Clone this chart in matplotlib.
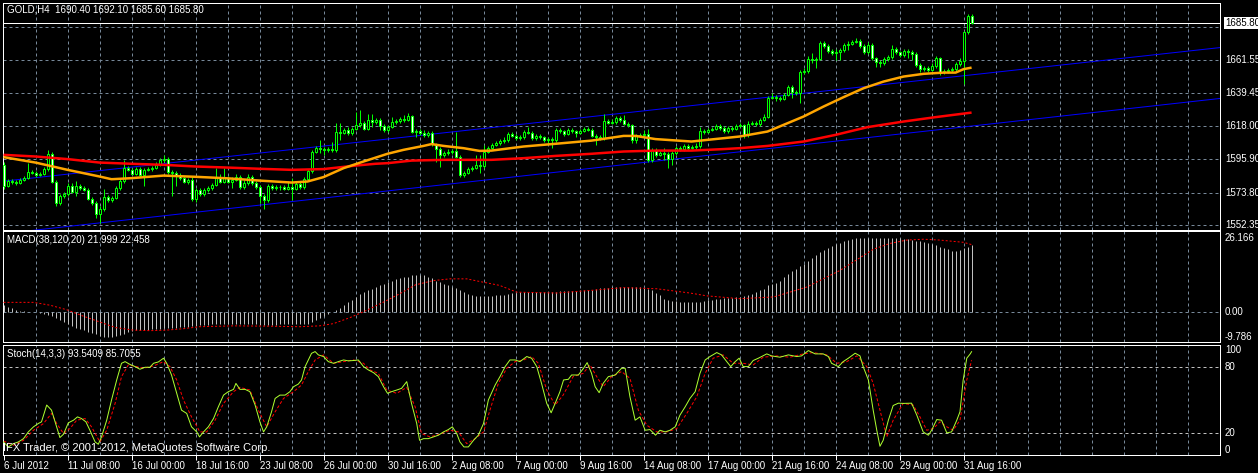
import numpy as np
import matplotlib
matplotlib.use("Agg")
import matplotlib.pyplot as plt
import matplotlib.transforms as mtransforms

# --- Data (GOLD, H4, 6 Jul 2012 16:00 .. 31 Aug 2012) ---
first_open = 1592.0
close = [
    1578.5, 1581.7, 1581.1, 1580.4, 1582.4, 1583.7, 1587.7, 1587.0, 1585.7, 1586.4,
    1589.7, 1599.6, 1581.1, 1567.2, 1571.8, 1573.2, 1578.4, 1574.5, 1578.4, 1577.1,
    1575.8, 1569.9, 1567.2, 1560.0, 1563.3, 1571.2, 1569.2, 1570.5, 1577.1, 1581.7,
    1590.3, 1589.0, 1586.4, 1589.7, 1585.7, 1589.0, 1589.7, 1590.3, 1592.3, 1595.6,
    1596.3, 1587.7, 1587.0, 1585.7, 1583.7, 1581.1, 1582.4, 1569.9, 1575.8, 1573.2,
    1575.8, 1577.1, 1579.1, 1584.4, 1581.1, 1583.7, 1581.1, 1582.4, 1584.4, 1577.8,
    1580.4, 1584.4, 1580.4, 1577.8, 1571.8, 1569.2, 1578.4, 1577.1, 1577.6, 1577.8,
    1576.5, 1577.8, 1576.5, 1579.8, 1577.8, 1583.1, 1588.3, 1600.9, 1603.5, 1602.9,
    1602.2, 1602.9, 1602.2, 1614.1, 1613.4, 1615.4, 1613.4, 1616.1, 1618.7, 1620.0,
    1616.1, 1622.0, 1620.7, 1622.0, 1618.0, 1615.4, 1617.4, 1620.7, 1621.3, 1622.7,
    1622.0, 1624.6, 1614.1, 1614.7, 1613.4, 1612.1, 1613.4, 1606.2, 1602.9, 1598.9,
    1600.2, 1600.9, 1601.5, 1597.6, 1585.7, 1587.0, 1589.7, 1590.3, 1592.3, 1591.6,
    1600.9, 1603.5, 1605.5, 1606.8, 1608.1, 1608.4, 1612.8, 1611.4, 1610.1, 1610.6,
    1614.1, 1613.4, 1610.1, 1611.4, 1610.8, 1608.8, 1609.2, 1608.5, 1615.4, 1614.7,
    1612.8, 1615.4, 1614.7, 1613.4, 1614.7, 1616.1, 1615.4, 1611.4, 1611.0, 1610.1,
    1621.3, 1620.0, 1620.7, 1623.3, 1622.0, 1619.4, 1618.7, 1608.8, 1611.4, 1612.1,
    1612.8, 1595.6, 1602.2, 1598.9, 1600.2, 1599.6, 1596.3, 1600.2, 1603.5, 1602.9,
    1604.8, 1603.5, 1604.2, 1604.8, 1614.7, 1614.2, 1615.4, 1616.1, 1618.0, 1616.7,
    1614.7, 1616.7, 1616.1, 1618.0, 1618.7, 1612.1, 1619.4, 1619.9, 1619.2, 1622.0,
    1624.0, 1636.5, 1637.0, 1636.3, 1636.0, 1638.5, 1643.8, 1640.5, 1639.8, 1653.7,
    1654.3, 1662.3, 1661.6, 1662.3, 1672.8, 1670.8, 1667.5, 1666.2, 1666.9, 1668.2,
    1671.5, 1672.2, 1673.5, 1674.1, 1670.8, 1666.9, 1671.5, 1662.9, 1660.3, 1659.8,
    1662.3, 1663.6, 1668.9, 1666.9, 1664.9, 1667.5, 1666.9, 1665.6, 1658.3, 1655.7,
    1656.2, 1655.0, 1657.6, 1662.9, 1653.7, 1654.3, 1655.0, 1655.7, 1658.9, 1660.9,
    1680.1, 1690.4, 1685.8,
]
high = [
    1594.5, 1583.0, 1583.0, 1582.5, 1583.5, 1585.0, 1593.4, 1589.0, 1588.5, 1587.5,
    1591.0, 1602.2, 1601.0, 1582.0, 1573.0, 1574.5, 1580.0, 1580.5, 1581.5, 1579.5,
    1578.5, 1577.0, 1571.0, 1568.5, 1565.0, 1576.5, 1572.5, 1572.0, 1578.5, 1583.0,
    1595.6, 1591.5, 1590.5, 1591.0, 1591.0, 1590.5, 1591.0, 1591.5, 1594.5, 1597.0,
    1598.5, 1597.5, 1589.0, 1588.5, 1587.0, 1585.0, 1583.5, 1584.0, 1577.0, 1577.0,
    1577.0, 1578.5, 1580.5, 1590.0, 1586.0, 1590.0, 1585.0, 1584.0, 1586.0, 1585.5,
    1582.0, 1586.5, 1585.5, 1581.5, 1579.0, 1573.0, 1579.5, 1579.5, 1579.0, 1579.0,
    1579.0, 1581.3, 1583.5, 1581.5, 1581.0, 1584.5, 1589.5, 1602.0, 1604.5, 1608.5,
    1604.0, 1604.0, 1607.5, 1619.8, 1619.8, 1616.5, 1617.0, 1617.5, 1627.5, 1628.6,
    1621.5, 1626.0, 1626.0, 1623.5, 1623.0, 1619.0, 1618.5, 1624.2, 1622.5, 1624.0,
    1625.3, 1626.8, 1625.5, 1616.0, 1616.0, 1615.0, 1614.5, 1614.5, 1607.0, 1604.0,
    1601.5, 1602.5, 1603.0, 1614.3, 1598.5, 1588.0, 1591.0, 1591.5, 1598.5, 1598.5,
    1605.5, 1604.5, 1607.0, 1608.0, 1609.5, 1611.0, 1614.0, 1614.0, 1612.5, 1612.0,
    1615.5, 1617.5, 1614.5, 1612.5, 1612.5, 1611.5, 1610.5, 1610.5, 1616.5, 1616.5,
    1615.5, 1616.5, 1616.5, 1615.5, 1616.0, 1617.5, 1617.5, 1616.5, 1612.5, 1612.0,
    1625.9, 1622.5, 1622.5, 1624.6, 1624.5, 1625.3, 1620.5, 1619.5, 1612.5, 1613.5,
    1615.4, 1616.0, 1603.5, 1603.5, 1601.5, 1603.3, 1601.0, 1601.5, 1605.0, 1604.5,
    1606.0, 1606.0, 1605.5, 1606.5, 1617.5, 1616.0, 1616.5, 1617.5, 1619.5, 1619.5,
    1618.0, 1618.0, 1618.0, 1619.5, 1620.0, 1619.5, 1621.0, 1621.0, 1621.0, 1623.5,
    1625.9, 1637.5, 1640.0, 1638.5, 1637.5, 1639.5, 1645.0, 1645.0, 1641.8, 1655.0,
    1656.0, 1664.0, 1666.4, 1663.5, 1674.0, 1674.0, 1672.0, 1668.5, 1668.5, 1669.5,
    1673.0, 1674.0, 1675.0, 1676.0, 1675.5, 1672.0, 1673.5, 1673.0, 1663.5, 1661.5,
    1663.5, 1665.0, 1671.5, 1670.0, 1667.5, 1669.0, 1668.5, 1668.0, 1667.1, 1659.5,
    1657.5, 1657.5, 1659.4, 1664.0, 1663.5, 1655.5, 1656.5, 1657.0, 1660.0, 1663.0,
    1681.0, 1692.0, 1692.1,
]
low = [
    1576.5, 1577.5, 1579.8, 1579.0, 1579.5, 1581.5, 1582.8, 1586.0, 1584.5, 1584.8,
    1585.5, 1588.5, 1580.0, 1564.8, 1566.0, 1570.5, 1572.0, 1573.5, 1571.4, 1576.0,
    1574.8, 1569.0, 1566.0, 1557.1, 1554.2, 1562.0, 1568.0, 1568.0, 1569.5, 1576.0,
    1580.5, 1588.0, 1585.5, 1585.5, 1584.5, 1578.0, 1588.0, 1588.5, 1589.5, 1591.5,
    1594.5, 1586.5, 1571.5, 1578.4, 1582.5, 1580.0, 1579.5, 1568.5, 1567.5, 1572.0,
    1572.0, 1574.5, 1576.0, 1578.0, 1580.0, 1580.0, 1580.0, 1577.0, 1581.5, 1576.5,
    1576.5, 1579.0, 1579.0, 1576.5, 1567.2, 1563.3, 1568.0, 1576.0, 1576.0, 1576.0,
    1575.5, 1575.5, 1569.2, 1575.5, 1576.5, 1576.5, 1582.0, 1587.0, 1600.0, 1600.0,
    1598.9, 1601.0, 1601.0, 1601.0, 1608.8, 1612.5, 1612.0, 1612.0, 1615.0, 1617.5,
    1615.0, 1615.0, 1617.6, 1619.5, 1615.4, 1614.0, 1614.0, 1616.5, 1619.5, 1620.0,
    1620.5, 1621.0, 1613.0, 1611.0, 1612.0, 1611.0, 1611.0, 1605.0, 1594.5, 1591.2,
    1597.5, 1599.0, 1599.5, 1596.5, 1584.5, 1584.5, 1586.0, 1588.5, 1589.5, 1586.8,
    1590.5, 1600.0, 1602.5, 1604.5, 1605.5, 1607.0, 1607.5, 1610.5, 1609.0, 1609.0,
    1609.5, 1612.5, 1609.0, 1609.0, 1609.5, 1607.5, 1606.6, 1603.3, 1607.5, 1613.0,
    1611.5, 1612.0, 1613.5, 1611.0, 1612.5, 1614.0, 1614.5, 1610.5, 1605.5, 1608.5,
    1609.0, 1619.0, 1619.0, 1619.5, 1620.5, 1618.5, 1617.0, 1606.6, 1606.6, 1610.5,
    1611.0, 1594.5, 1594.5, 1597.5, 1598.0, 1595.6, 1590.1, 1592.3, 1599.0, 1601.5,
    1601.5, 1602.0, 1602.5, 1603.0, 1603.5, 1612.5, 1613.0, 1614.5, 1615.0, 1615.5,
    1613.5, 1613.5, 1614.5, 1615.0, 1617.0, 1609.9, 1611.0, 1618.5, 1618.0, 1618.0,
    1621.0, 1623.0, 1635.5, 1634.5, 1634.5, 1635.0, 1637.5, 1636.3, 1638.5, 1633.0,
    1652.5, 1653.0, 1659.8, 1656.1, 1661.5, 1669.5, 1666.0, 1665.0, 1661.6, 1661.6,
    1667.0, 1668.2, 1671.5, 1672.5, 1669.5, 1665.5, 1665.5, 1661.5, 1657.2, 1656.8,
    1658.5, 1661.0, 1662.5, 1665.5, 1663.5, 1663.5, 1662.7, 1661.6, 1657.0, 1653.9,
    1654.5, 1653.5, 1654.0, 1656.5, 1651.7, 1652.5, 1653.0, 1653.5, 1654.5, 1657.5,
    1645.8, 1679.0, 1685.6,
]

# moving averages: (bar, price)
ma_fast = [(0, 1597.4), (8, 1593.8), (16, 1589.0), (20, 1586.8), (24, 1584.6), (27, 1582.8),
           (32, 1583.5), (40, 1585.2), (48, 1584.4), (56, 1583.4), (64, 1581.9), (72, 1580.6),
           (76, 1581.3), (80, 1584.2), (85, 1590.1), (90, 1594.5), (96, 1599.6), (100, 1602.2),
           (105, 1604.8), (107, 1606.0), (110, 1604.8), (115, 1603.3), (119, 1601.5), (122, 1601.7),
           (130, 1604.4), (138, 1606.2), (147, 1608.3), (155, 1611.4), (158, 1611.4), (163, 1609.3),
           (172, 1607.7), (176, 1608.8), (184, 1611.0), (191, 1614.3), (200, 1624.2), (205, 1630.8),
           (210, 1637.0), (215, 1642.9), (220, 1647.3), (225, 1650.6), (230, 1652.4), (235, 1653.2),
           (238, 1653.2), (240, 1655.5), (242, 1656.5)]
ma_slow = [(0, 1598.9), (8, 1597.8), (16, 1596.1), (24, 1593.8), (32, 1593.0), (40, 1592.3),
           (48, 1591.2), (56, 1590.5), (64, 1589.7), (72, 1589.0), (80, 1589.5), (88, 1591.8),
           (93, 1593.0), (96, 1593.4), (102, 1595.1), (110, 1595.6), (118, 1595.6), (122, 1595.6),
           (130, 1596.7), (138, 1598.2), (147, 1599.6), (155, 1601.1), (163, 1601.7), (172, 1601.7),
           (180, 1602.7), (184, 1603.3), (191, 1604.8), (200, 1607.7), (208, 1612.1), (216, 1617.2),
           (225, 1620.9), (233, 1623.8), (242, 1626.8)]

# regression channel (drawn object): bar -> price
chan_bars = [0, 304]
chan_upper = [1581.5, 1669.7]
chan_lower = [1546.9, 1636.1]

bid = 1685.80
price_grid = [1683.65, 1661.55, 1639.45, 1618.00, 1595.90, 1573.80, 1552.35]
price_labels = ["1661.55", "1639.45", "1618.00", "1595.90", "1573.80", "1552.35"]

# MACD(38,120,20) histogram, one value per bar
macd = [
    2.5, 2.0, 1.5, 0.8, 0.5, 0.3, 0.2, 0.1, 0.0,
    -0.3, -0.6, -0.8, -1.2, -2.0, -2.8, -3.5, -4.2, -5.0, -5.6, -6.0, -6.3,
    -6.8, -7.2, -7.8, -8.3, -8.6, -8.7, -8.6, -8.3, -8.0, -7.5, -7.0, -6.6,
    -6.4, -6.3, -6.2, -6.1, -6.0, -5.9, -5.8, -5.7, -5.6, -5.5, -5.4, -5.3,
    -5.2, -5.1, -4.9, -4.7, -4.6, -4.5, -4.4, -4.3, -4.3, -4.2, -4.2, -4.2,
    -4.2, -4.2, -4.2, -4.3, -4.3, -4.3, -4.3, -4.4, -4.5, -4.5, -4.4, -4.4,
    -4.3, -4.3, -4.3, -4.3, -4.2, -4.1, -4.0, -4.0, -3.6, -2.8, -1.9, -1.2,
    -0.5, 0.2, 0.9, 1.6, 2.6, 3.5, 4.2, 5.4, 6.3, 7.0, 7.7, 8.3,
    8.9, 9.5, 10.1, 10.6, 11.2, 11.7, 12.0, 12.4, 12.6, 13.0, 13.3, 13.3,
    13.0, 12.6, 12.0, 11.2, 10.6, 10.1, 9.5, 8.9, 8.4, 7.7, 7.1, 6.5,
    6.2, 5.8, 5.7, 5.7, 5.7, 5.6, 6.0, 6.1, 6.2, 6.3, 6.8, 6.9,
    7.0, 7.0, 7.1, 7.1, 7.1, 7.1, 7.1, 7.2, 7.3, 7.3, 7.4, 7.5,
    7.5, 7.6, 7.6, 7.7, 7.7, 7.7, 8.0, 8.2, 8.4, 8.6, 8.7, 8.8,
    8.9, 9.0, 9.1, 9.1, 9.0, 9.0, 8.9, 8.6, 8.3, 7.7, 6.8, 6.0,
    4.8, 4.2, 4.0, 3.9, 3.8, 3.7, 3.6, 3.6, 3.6, 3.8, 4.0, 4.2,
    4.5, 4.8, 4.8, 4.9, 5.0, 5.2, 5.3, 5.4, 5.7, 6.0, 6.3, 7.1,
    7.7, 8.3, 9.5, 9.9, 10.3, 11.2, 12.4, 13.6, 14.5, 15.3, 16.2, 17.1,
    18.2, 19.3, 20.4, 21.2, 22.0, 22.8, 23.5, 24.1, 24.6, 25.0, 25.4, 25.8,
    26.1, 26.2, 26.2, 26.2, 26.2, 26.2, 26.2, 26.2, 26.2, 26.2, 26.2, 26.1, 26.0, 25.8,
    25.5, 25.2, 25.0, 24.7, 24.4, 24.0, 23.6, 23.2, 22.8, 22.2, 21.7, 21.7, 22.0, 22.6, 23.2, 23.8,
]
macd_signal = [(0, 3.5), (7.5, 3.5), (11.6, 2.5), (15.8, 0.9), (20, -1.4), (24, -3.4), (28, -5.4),
               (32.5, -6.3), (36.6, -6.5), (40.8, -6.3), (45, -5.8), (49, -5.1), (57.5, -4.8),
               (65.8, -4.9), (74, -5.1), (79, -4.8), (82.5, -4.0), (86.6, -1.9), (90.8, 0.7),
               (95, 3.6), (99, 6.5), (103, 9.7), (107.5, 11.2), (111.6, 11.8), (115.8, 11.8),
               (120, 10.6), (124, 9.5), (128.3, 7.1), (138.3, 6.8), (146.6, 7.7), (155, 8.7),
               (163.3, 8.3), (171.6, 6.8), (175.8, 5.8), (184, 4.8), (192.5, 5.4), (200.8, 8.9),
               (209, 14.7), (217.5, 22.3), (221.6, 24.3), (225.8, 25.5), (230, 25.8), (234, 25.5),
               (240, 24.7), (242, 23.9)]

# Stoch(14,3,3): main (%K) and signal (%D): (bar, value)
stoch_k = [(0, 11.8), (1.2, 7.3), (2.5, 10.3), (3.7, 11.8), (5, 14.8), (6.2, 20.9), (7.5, 25.5),
           (8.7, 28.5), (9.5, 30), (10.8, 45.2), (12, 40.6), (12.9, 30), (14.1, 15.8), (15, 18.8),
           (16.2, 29.1), (17.5, 31.5), (18.5, 34.5), (19.5, 33), (20.6, 30), (21.6, 22.4),
           (22.9, 11.8), (23.7, 9.7), (24.5, 16.4), (25.8, 31.5), (27, 49.7), (28.3, 67.9),
           (29.5, 83), (30.4, 84.5), (31.6, 82), (32.9, 80), (34.1, 77.6), (35.4, 79.4),
           (36.6, 79.4), (37.5, 83), (38.7, 84.2), (40, 87.6), (40.8, 83), (42, 72.4),
           (43.3, 55.8), (44.5, 40.6), (45.8, 37.6), (47, 25.5), (48.3, 20.9), (49, 16.4),
           (50, 20.9), (51.2, 25.5), (52.5, 33), (53.7, 43.6), (55, 54.2), (56.2, 57.3),
           (57.5, 59.4), (58.1, 64.8), (59.1, 59.4), (60.4, 59.4), (61.6, 57.3), (62.9, 45.2),
           (64.1, 30), (65, 20.9), (65.8, 25.5), (67, 39.1), (67.9, 51.2), (69.1, 54.2),
           (70.4, 54.2), (71.6, 57.3), (72.5, 61.8), (73.7, 64.2), (74.5, 67.9), (75.4, 80),
           (76.2, 86), (77, 92), (77.9, 93.6), (78.7, 90.6), (80, 89.1), (81.2, 84.5), (82.5, 83),
           (83.7, 84.5), (85, 86), (86.2, 85.2), (87.5, 85.5), (88.7, 86), (90, 80), (91.2, 77),
           (92.5, 74.5), (93.7, 70.9), (95, 61.8), (96, 55.8), (97, 57.3), (98.3, 58.8),
           (99.5, 60.3), (100.8, 66.4), (102, 46.7), (103.3, 28.5), (104, 13.3), (105, 14.8),
           (106.2, 14.8), (107.5, 16.4), (108.7, 17.9), (110, 20.9), (111.2, 23), (112.2, 25.5),
           (113.3, 19.4), (114.1, 11.8), (115.1, 7.3), (116.2, 7.3), (117.5, 13.3), (118.7, 17.9),
           (120, 28.5), (121.2, 49.7), (122.9, 63.3), (124.1, 70.9), (125.4, 80), (126.6, 86),
           (127.9, 86), (129.1, 84.5), (130.8, 89.1), (132, 87.6), (133.3, 80), (134.5, 64.8),
           (135.8, 46.7), (136.9, 38.2), (137.9, 46.7), (139.1, 57.3), (140, 67.9), (141.2, 68.5),
           (142, 72.4), (143.7, 72.4), (145, 78.5), (145.9, 83.6), (147, 73.9), (147.9, 61.8),
           (148.9, 56.4), (149.9, 64.8), (151.2, 70.9), (152.9, 72.4), (154.5, 78.5),
           (155.4, 78.5), (156.6, 52.7), (157.9, 31.5), (159.1, 34.5), (160.4, 22.4), (161.6, 23),
           (163, 17.9), (164.1, 22.4), (165.4, 20.9), (166.6, 22.4), (167.9, 25.5), (169.1, 36.1),
           (170.4, 43.6), (171.6, 51.2), (172.9, 57.3), (174.1, 73.9), (175.4, 86), (176.6, 89.1),
           (178.3, 92.7), (179.5, 90.6), (180.8, 84.5), (181.8, 80), (182.9, 84.5), (183.9, 87.6),
           (184.9, 80), (186.2, 80), (187.4, 85.5), (188.7, 87.6), (190.8, 91.5), (192, 89.7),
           (194.1, 88.5), (196.2, 90.6), (198.3, 89.1), (199.5, 89.7), (201.2, 94.5),
           (202.9, 91.5), (204.9, 91.5), (206.2, 89.1), (207, 83), (208.7, 80), (209.9, 84.5),
           (211.2, 87.6), (212.9, 92.1), (214.1, 89.7), (214.9, 80), (216.2, 67.9), (217.4, 40.6),
           (218.3, 22.4), (219.1, 7.9), (219.9, 13.3), (221.2, 31.5), (222.4, 44.8), (223.7, 46.9),
           (224.9, 46.7), (227, 46.9), (228.3, 36.1), (229.9, 20.9), (231.2, 17.9), (232, 22.4),
           (233.3, 32.1), (234.5, 31.5), (235.8, 20), (237, 20.9), (238.3, 31.5), (239.1, 39.1),
           (239.9, 67.9), (240.8, 87.6), (241.6, 91.2), (242, 93.5)]
stoch_d = [(0, 12.7), (2.5, 8.8), (5, 13.3), (7.5, 22.4), (10, 28.5), (12, 37.6), (13.3, 28.5),
           (15, 19.4), (16.6, 23.9), (18.3, 31.5), (20.4, 33), (22, 25.5), (24.1, 11.8),
           (25.8, 22.4), (27.9, 46.7), (29.5, 70.9), (31.2, 81.5), (33.3, 80), (35, 78.5),
           (37.5, 80.6), (40, 84.5), (41.6, 80), (43.3, 67.9), (45, 49.7), (47, 34.5), (49.1, 20.9),
           (50.8, 20.9), (52.9, 31.5), (55, 46.7), (57.5, 57.3), (59.1, 61.2), (61.6, 58.8),
           (63.7, 40.6), (65.8, 25.5), (67.9, 39.1), (70, 51.2), (72.5, 57.3), (74.5, 63.3),
           (76.2, 75.5), (77.9, 86), (80, 90.6), (82.5, 83), (85, 84.5), (87.5, 86), (90, 83),
           (91.6, 77), (93.7, 73.9), (95.8, 58.8), (98.3, 55.8), (100.8, 61.2), (102.9, 43.6),
           (104.5, 19.4), (106.6, 16.4), (109.1, 18.8), (111.6, 22.4), (113.7, 20.9),
           (115.8, 10.3), (117.9, 14.8), (120, 20.9), (121.6, 40.6), (123.7, 64.8), (125.8, 78.5),
           (127.9, 84.5), (130, 86), (132, 89.1), (133.7, 83), (135.8, 58.8), (137.9, 45.2),
           (139.9, 54.2), (142.4, 70.9), (144.9, 73.9), (146.6, 81.5), (148.3, 70.9),
           (149.9, 61.8), (152, 70.9), (154.5, 75.5), (156.6, 69.4), (158.7, 40.6), (160.8, 27),
           (163.3, 20.9), (165.8, 20.9), (168.3, 23.9), (170.8, 37.6), (173.3, 52.7),
           (175.4, 73.9), (177.4, 87.6), (179.9, 90.6), (182.4, 83), (184.9, 83), (187.4, 81.5),
           (189.9, 88.5), (193.3, 89.7), (196.6, 88.5), (199.9, 91.5), (202.4, 92.7),
           (205.8, 90.6), (208.3, 83), (210.8, 84.5), (213.3, 89.7), (215.8, 80), (217.4, 64.8),
           (219.1, 40.6), (220.8, 16.4), (222.4, 31.5), (224.9, 46.7), (227.4, 45.2),
           (229.1, 34.5), (230.8, 22.4), (232.4, 23.9), (234.1, 30), (235.8, 25.5),
           (237.4, 22.4), (239.1, 31.5), (240.8, 67.9), (242, 85.7)]

tick_bars = [0, 16, 32, 48, 64, 80, 96, 112, 128, 144, 160, 176, 192, 208, 224, 240]
tick_labels = ["6 Jul 2012", "11 Jul 08:00", "16 Jul 00:00", "18 Jul 16:00", "23 Jul 08:00",
               "26 Jul 00:00", "30 Jul 16:00", "2 Aug 08:00", "7 Aug 00:00", "9 Aug 16:00",
               "14 Aug 08:00", "17 Aug 00:00", "21 Aug 16:00", "24 Aug 08:00", "29 Aug 00:00",
               "31 Aug 16:00"]

assert len(close) == len(high) == len(low) == len(macd) == 243

# --- Styling ---
plt.rcParams['font.family'] = ['Liberation Sans', 'DejaVu Sans']
W, H = 1258, 473
PX = 0.72  # one pixel in points at dpi 100
GRID = '#778899'
CANDLE = '#00FF00'
XMIN, XMAX = -0.25, 304.1

fig = plt.figure(figsize=(W / 100, H / 100), dpi=100, facecolor='black')


def panel(top, bottom, left=2.5, right=1220.0):
    ax = fig.add_axes([left / W, 1 - bottom / H, (right - left) / W, (bottom - top) / H])
    ax.set_facecolor('black')
    for sp in ax.spines.values():
        sp.set_color('white')
        sp.set_linewidth(PX)
    ax.set_xlim(XMIN, XMAX)
    ax.tick_params(left=False, labelleft=False, bottom=False, labelbottom=False)
    for g in range(8, 305, 8):
        ax.axvline(g, color=GRID, lw=PX, ls=(0, (3, 3)), zorder=0)
    return ax


def right_label(ax, y, s, va='center', color='white', **kw):
    tr = mtransforms.offset_copy(ax.get_yaxis_transform(), fig=fig, x=5, y=0, units='dots')
    ax.text(1.0, y, s, transform=tr, color=color, fontsize=7, va=va, ha='left',
            clip_on=False, **kw)


ax_p = panel(2.5, 229.5)
ax_m = panel(231.0, 342.0)
ax_s = panel(344.5, 455.0)

# --- Price panel ---
ax_p.set_ylim(1549.6, 1699.5)
for lvl in price_grid:
    ax_p.axhline(lvl, color=GRID, lw=PX, ls=(0, (3, 3)), zorder=0)
ax_p.axhline(bid, color='white', lw=PX, zorder=1)

cx = np.array(chan_bars, dtype=float)
ax_p.plot(cx, chan_upper, color='#0000FF', lw=PX, zorder=2)
ax_p.plot(cx, chan_lower, color='#0000FF', lw=PX, zorder=2)

c = np.array(close)
o = np.r_[first_open, c[:-1]]
idx = np.arange(len(c))
ax_p.vlines(idx, low, high, color=CANDLE, lw=PX, zorder=3)
ax_p.bar(idx, np.abs(c - o), bottom=np.minimum(o, c), width=0.5,
         color=np.where(c >= o, 'black', 'white'), edgecolor=CANDLE, linewidth=PX, zorder=4)

fx, fy = zip(*ma_fast)
sx, sy = zip(*ma_slow)
ax_p.plot(sx, sy, color='#FF0000', lw=1.8, zorder=5, solid_capstyle='butt')
ax_p.plot(fx, fy, color='#FFA500', lw=1.8, zorder=5, solid_capstyle='butt')

for lvl, lab in zip(price_grid[1:], price_labels):
    right_label(ax_p, lvl, lab)
right_label(ax_p, bid, f"{bid:.2f}", color='black',
            bbox=dict(boxstyle='square,pad=0.12', fc='white', ec='none'))
fig.text(7 / W, 1 - 10 / H, "GOLD,H4  1690.40 1692.10 1685.60 1685.80",
         color='white', fontsize=7, va='center')

# --- MACD panel ---
ax_m.set_ylim(-10.5, 28.7)
ax_m.axhline(0, color=GRID, lw=PX, ls=(0, (3, 3)), zorder=0)
ax_m.vlines(idx, 0, macd, color='#C0C0C0', lw=PX, zorder=2)
mx, my = zip(*macd_signal)
ax_m.plot(mx, my, color='#FF0000', lw=PX, ls=(0, (2, 2)), zorder=3)
right_label(ax_m, 26.166, "26.166")
right_label(ax_m, 0, "0.00")
right_label(ax_m, -10.5, "-9.786", va='bottom')
fig.text(7 / W, 1 - 240 / H, "MACD(38,120,20) 21.999 22.458", color='white',
         fontsize=7, va='center')

# --- Stochastic panel ---
ax_s.set_ylim(0, 100)
for lvl in (80, 20):
    ax_s.axhline(lvl, color='#C0C0C0', lw=PX, ls=(0, (3, 3)), zorder=0)
kx, ky = zip(*stoch_k)
dx, dy = zip(*stoch_d)
ax_s.plot(dx, dy, color='#FF0000', lw=PX, ls=(0, (3, 2)), zorder=2)
ax_s.plot(kx, ky, color='#ADFF2F', lw=PX, zorder=3)
right_label(ax_s, 100, "100", va='top')
right_label(ax_s, 80, "80")
right_label(ax_s, 20, "20")
right_label(ax_s, 0, "0", va='bottom')
fig.text(7 / W, 1 - 354 / H, "Stoch(14,3,3) 93.5409 85.7055", color='white',
         fontsize=7, va='center')
fig.text(3 / W, 1 - 448 / H, "IFX Trader, \u00a9 2001-2012, MetaQuotes Software Corp.",
         color='white', fontsize=8, va='center')

ax_s.set_xticks(tick_bars)
ax_s.set_xticklabels(tick_labels, ha='left')
ax_s.tick_params(axis='x', bottom=True, labelbottom=True, colors='white', length=3.6,
                 width=PX, pad=1, labelsize=7)

fig.savefig('out.png', dpi=100, facecolor='black')
